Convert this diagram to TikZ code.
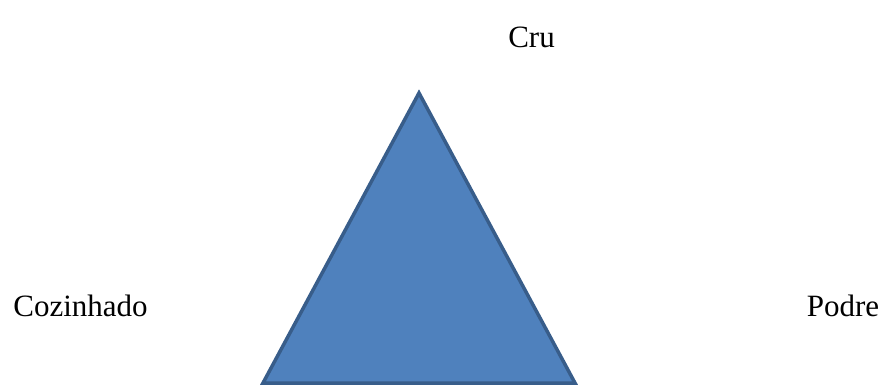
\documentclass[tikz,border=0pt]{standalone}
\usepackage{fontspec}
\setmainfont{Liberation Serif}
\definecolor{trifill}{HTML}{4F81BD}
\definecolor{triedge}{HTML}{385D8A}
\tikzset{
  lbl/.style={anchor=base, inner sep=0pt, font=\fontsize{31}{37}\selectfont},
  tri/.style={fill=trifill, draw=triedge, line width=3.5pt, line join=miter}
}
\begin{document}
\begin{tikzpicture}[x=1pt,y=-1pt]
\useasboundingbox (0,0) rectangle (892,385);
\coordinate (apex) at (419,93);
\coordinate (bl) at (263,383);
\coordinate (br) at (575,383);
\draw[tri] (apex) -- (br) -- (bl) -- cycle;
\node[lbl] (cru) at (531.5,48) {Cru};
\node[lbl] (coz) at (80.5,316) {Cozinhado};
\node[lbl] (podre) at (843,316) {Podre};
\end{tikzpicture}
\end{document}
